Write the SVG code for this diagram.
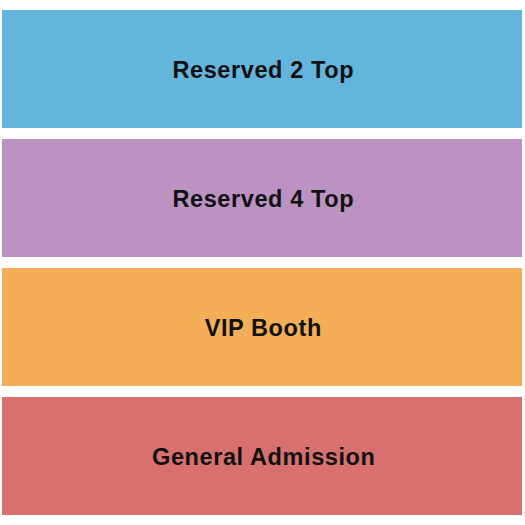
<svg xmlns="http://www.w3.org/2000/svg" width="525" height="525" viewBox="0 0 525 525">
<style>
.sec{stroke:none}
.lbl{font-family:"Liberation Sans",Arial,sans-serif;font-weight:bold;font-size:23.5px;letter-spacing:0.6px;fill:#111;text-anchor:middle}
</style>
<rect width="525" height="525" fill="#fff"/>
<g id="reserved-2-top">
<rect class="sec" x="2" y="10" width="520" height="118" fill="#64B5DC"/>
<text class="lbl" x="263.3" y="77.7">Reserved 2 Top</text>
</g>
<g id="reserved-4-top">
<rect class="sec" x="2" y="139" width="520" height="118" fill="#BB92C2"/>
<text class="lbl" x="263.3" y="206.7">Reserved 4 Top</text>
</g>
<g id="vip-booth">
<rect class="sec" x="2" y="268" width="520" height="118" fill="#F4AE57"/>
<text class="lbl" x="263.3" y="335.7">VIP Booth</text>
</g>
<g id="general-admission">
<rect class="sec" x="2" y="397" width="520" height="118" fill="#D7706E"/>
<text class="lbl" x="263.8" y="464.7">General Admission</text>
</g>
<g id="connectors"/>
</svg>
